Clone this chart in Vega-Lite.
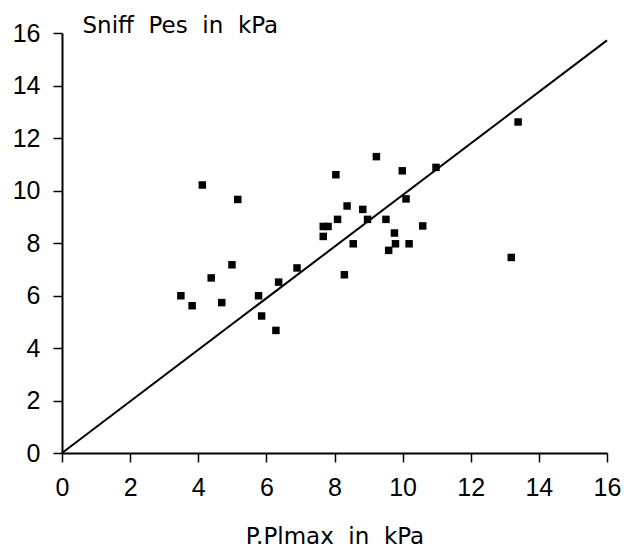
{
  "$schema": "https://vega.github.io/schema/vega-lite/v6.json",
  "autosize": "none",
  "width": 545,
  "height": 420,
  "padding": {"left": 62, "top": 33, "right": 17, "bottom": 95},
  "background": "white",
  "config": {
    "view": {"stroke": null},
    "font": "Liberation Sans",
    "axis": {
      "grid": false,
      "domainColor": "black",
      "domainWidth": 2,
      "tickColor": "black",
      "tickWidth": 1.5,
      "tickSize": 9,
      "labelColor": "black",
      "labelFont": "Liberation Sans",
      "labelFontSize": 25,
      "labelPadding": 13,
      "labelFlush": false,
      "labelOverlap": false,
      "titleColor": "black",
      "titleFont": "DejaVu Sans",
      "titleFontSize": 23,
      "titleFontWeight": "normal"
    }
  },
  "datasets": {
    "pts": [
      {"pplmax": 4.12, "sniff": 10.21},
      {"pplmax": 5.16, "sniff": 9.66},
      {"pplmax": 8.04, "sniff": 10.60},
      {"pplmax": 8.37, "sniff": 9.41},
      {"pplmax": 8.09, "sniff": 8.90},
      {"pplmax": 7.67, "sniff": 8.63},
      {"pplmax": 7.81, "sniff": 8.63},
      {"pplmax": 7.67, "sniff": 8.25},
      {"pplmax": 4.99, "sniff": 7.17},
      {"pplmax": 4.38, "sniff": 6.67},
      {"pplmax": 3.49, "sniff": 5.99},
      {"pplmax": 3.82, "sniff": 5.61},
      {"pplmax": 4.69, "sniff": 5.73},
      {"pplmax": 5.77, "sniff": 5.99},
      {"pplmax": 5.86, "sniff": 5.22},
      {"pplmax": 6.28, "sniff": 4.67},
      {"pplmax": 6.36, "sniff": 6.51},
      {"pplmax": 6.90, "sniff": 7.05},
      {"pplmax": 8.29, "sniff": 6.79},
      {"pplmax": 9.23, "sniff": 11.29},
      {"pplmax": 9.99, "sniff": 10.75},
      {"pplmax": 10.98, "sniff": 10.88},
      {"pplmax": 8.83, "sniff": 9.28},
      {"pplmax": 10.10, "sniff": 9.68},
      {"pplmax": 8.97, "sniff": 8.90},
      {"pplmax": 9.51, "sniff": 8.90},
      {"pplmax": 9.76, "sniff": 8.38},
      {"pplmax": 10.59, "sniff": 8.65},
      {"pplmax": 8.55, "sniff": 7.97},
      {"pplmax": 9.79, "sniff": 7.97},
      {"pplmax": 10.19, "sniff": 7.97},
      {"pplmax": 9.59, "sniff": 7.72},
      {"pplmax": 13.39, "sniff": 12.61},
      {"pplmax": 13.19, "sniff": 7.45}
    ],
    "line": [
      {"pplmax": 0, "sniff": 0},
      {"pplmax": 16, "sniff": 15.72}
    ]
  },
  "layer": [
    {
      "data": {"name": "line"},
      "mark": {"type": "line", "color": "black", "strokeWidth": 2},
      "encoding": {
        "x": {"field": "pplmax", "type": "quantitative"},
        "y": {"field": "sniff", "type": "quantitative"}
      }
    },
    {
      "data": {"name": "pts"},
      "mark": {"type": "square", "size": 56, "filled": true, "color": "black", "opacity": 1},
      "encoding": {
        "x": {
          "field": "pplmax",
          "type": "quantitative",
          "scale": {"domain": [0, 16], "nice": false},
          "axis": {"values": [0, 2, 4, 6, 8, 10, 12, 14, 16], "title": "P.Plmax\u00a0\u00a0in\u00a0\u00a0kPa", "titleBaseline": "alphabetic", "titleY": 90}
        },
        "y": {
          "field": "sniff",
          "type": "quantitative",
          "scale": {"domain": [0, 16], "nice": false},
          "axis": {"values": [0, 2, 4, 6, 8, 10, 12, 14, 16], "title": "Sniff\u00a0\u00a0Pes\u00a0\u00a0in\u00a0\u00a0kPa", "titleAngle": 0, "titleAlign": "left", "titleBaseline": "alphabetic", "titleX": 20, "titleY": -1}
        }
      }
    }
  ]
}
